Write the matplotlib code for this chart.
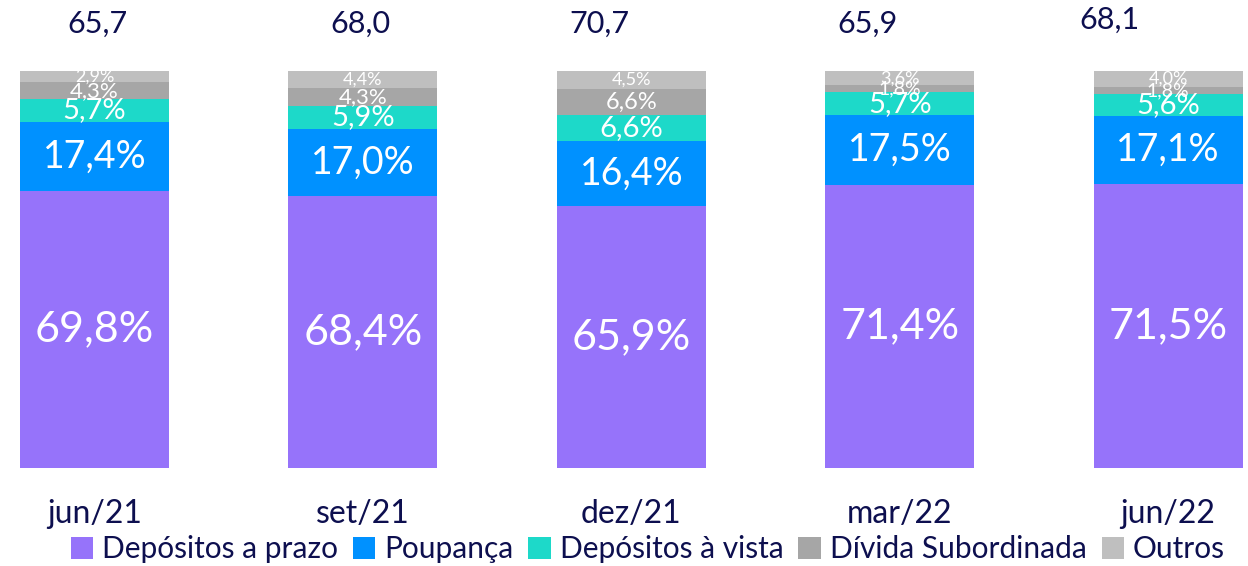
import matplotlib.pyplot as plt
from matplotlib.patches import Patch

# dados
periodos = ['jun/21', 'set/21', 'dez/21', 'mar/22', 'jun/22']
totais = ['65,7', '68,0', '70,7', '65,9', '68,1']
series = ['Depósitos a prazo', 'Poupança', 'Depósitos à vista', 'Dívida Subordinada', 'Outros']
dep_prazo = [69.8, 68.4, 65.9, 71.4, 71.5]
poupanca = [17.4, 17.0, 16.4, 17.5, 17.1]
dep_vista = [5.7, 5.9, 6.6, 5.7, 5.6]
divida_sub = [4.3, 4.3, 6.6, 1.8, 1.8]
outros = [2.9, 4.4, 4.5, 3.6, 4.0]

valores = [dep_prazo, poupanca, dep_vista, divida_sub, outros]
cores = ['#9673FA', '#0091FF', '#1DD9C9', '#A6A6A6', '#BFBFBF']
tam_fonte = [31, 27, 21, 16, 13]
azul_escuro = '#0D0F4F'

plt.rcParams['font.family'] = ['Lato', 'DejaVu Sans']

fig = plt.figure(figsize=(12.48, 5.66), dpi=100)
ax = fig.add_axes([0, 98 / 566, 1, 397 / 566])

x = list(range(len(periodos)))
base = [0] * len(periodos)
for serie, vals, cor, fs in zip(series, valores, cores, tam_fonte):
    ax.bar(x, vals, bottom=base, width=0.555, color=cor, label=serie)
    for i, v in enumerate(vals):
        tam = fs
        if serie == 'Dívida Subordinada' and v > 5:
            tam = 17
        if serie == 'Dívida Subordinada' and v < 2:
            tam = 14
        ax.text(i, base[i] + v / 2, f'{v:.1f}%'.replace('.', ','),
                ha='center', va='center', color='white', fontsize=tam)
    base = [b + v for b, v in zip(base, vals)]

# totais acima das barras (posições como no original)
desloc_x = [0.01, -0.01, -0.12, -0.12, -0.22]
pos_y = [112, 112, 112, 112, 113]
for i, t in enumerate(totais):
    ax.text(i + desloc_x[i], pos_y[i], t, ha='center', va='center',
            color=azul_escuro, fontsize=22)

ax.set_xlim(-94.5 / 268.4, (1248 - 94.5) / 268.4)
ax.set_ylim(0, 100)
ax.set_xticks(x)
ax.set_xticklabels(periodos, fontsize=23, color=azul_escuro)
ax.tick_params(axis='x', length=0, pad=22)
ax.set_yticks([])
for s in ax.spines.values():
    s.set_visible(False)

handles = [Patch(facecolor=c, label=s) for c, s in zip(cores, series)]
fig.legend(handles=handles, loc='center', bbox_to_anchor=(0.519, 17 / 566), ncol=5,
           frameon=False, fontsize=21.5, handlelength=0.75, handleheight=0.75,
           handletextpad=0.3, columnspacing=0.5, labelcolor=azul_escuro,
           borderpad=0, borderaxespad=0)

fig.savefig('out.png', dpi=100)
